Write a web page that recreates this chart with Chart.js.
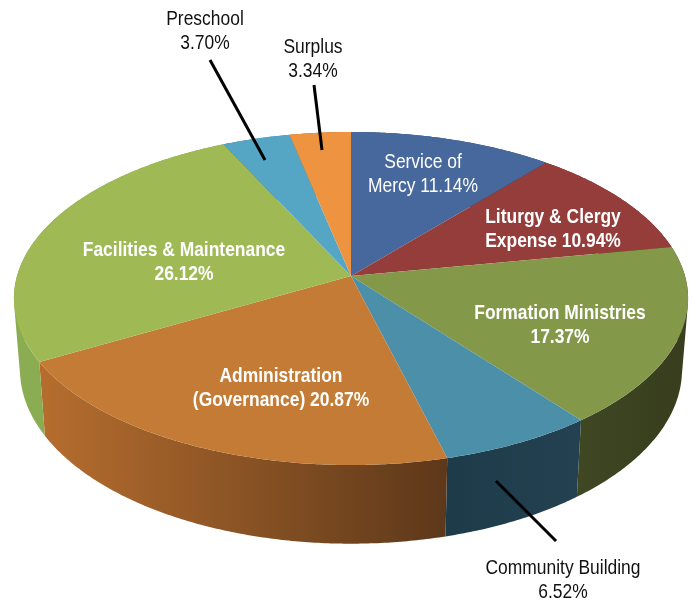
<!DOCTYPE html>
<html>
<head>
<meta charset="utf-8">
<style>
  html, body { margin: 0; padding: 0; background: #fff; }
  canvas { display: block; }
</style>
<script src="https://cdn.jsdelivr.net/npm/chart.js@4"></script>
</head>
<body>
<canvas id="myChart" width="694" height="601"></canvas>
<script>
// data
const categories = ['Service of Mercy', 'Liturgy & Clergy Expense', 'Formation Ministries', 'Community Building',
    'Administration (Governance)', 'Facilities & Maintenance', 'Preschool', 'Surplus']
const shares = [11.14, 10.94, 17.37, 6.52, 20.87, 26.12, 3.70, 3.34]
const labelLines = [
    ['Service of', 'Mercy 11.14%'],
    ['Liturgy & Clergy', 'Expense 10.94%'],
    ['Formation Ministries', '17.37%'],
    ['Community Building', '6.52%'],
    ['Administration', '(Governance) 20.87%'],
    ['Facilities & Maintenance', '26.12%'],
    ['Preschool', '3.70%'],
    ['Surplus', '3.34%'],
]

// styles
const topColors = ['#47689c', '#943d3b', '#84984a', '#4c8fa9', '#c47b35', '#9fba55', '#55a6c5', '#ee9441']
const wallColors = [
    ['#2f456a', '#2f456a'], ['#5e2725', '#5e2725'], ['#3f4723', '#393f1e'], ['#1e3b4a', '#234150'],
    ['#b56d2e', '#5d381a'], ['#8aac52', '#86a64e'], ['#3b7488', '#3b7488'], ['#a86830', '#a86830'],
]
const labelPlaces = [
    { x: 423, y: 162, color: '#fff', bold: false },
    { x: 553, y: 217, color: '#fff', bold: true },
    { x: 560, y: 313, color: '#fff', bold: true },
    { x: 563, y: 568, color: '#111', bold: false },
    { x: 281, y: 376, color: '#fff', bold: true },
    { x: 184, y: 250, color: '#fff', bold: true },
    { x: 205, y: 19, color: '#111', bold: false },
    { x: 313, y: 47, color: '#111', bold: false },
]
const lineGap = 24.5
const narrow = 0.83 // no narrow face installed, so the sans is squeezed
// leader lines for the labels that sit outside of the pie
const leaders = [
    [210, 60, 265, 160],
    [314, 85, 322, 150],
    [496, 481, 556, 541],
]

/////////////////////////////////////////////////////////////
// perspective of the disc: circle angle -> canvas point
/////////////////////////////////////////////////////////////
const topDisc = { cx: 351, cy: 276, a: 334, b: 163.5, p: -0.135 }
const bottomDisc = { cx: 351, cy: 346, a: 328, b: 171, p: -0.135 }

function project(disc, angle) {
    const x = Math.cos(angle)
    const y = Math.sin(angle)
    const w = 1 + disc.p * y
    return { x: disc.cx + disc.a * x / w, y: disc.cy + disc.b * y / w }
}

// rim of one slice as canvas points, always ending exactly on the end angle
function rim(disc, arc) {
    const step = Math.PI / 180 / 2
    const pts = []
    for (let t = arc.startAngle; t < arc.endAngle; t += step) {
        pts.push(project(disc, t))
    }
    pts.push(project(disc, arc.endAngle))
    return pts
}

const disc3d = {
    id: 'disc3d',
    // default flat drawing is skipped, the arcs are painted from their own angles
    beforeDatasetDraw(chart) {
        const ctx = chart.ctx
        const arcs = chart.getDatasetMeta(0).data

        // side wall: small quads in one path, all wound the same way so the
        // part that folds over at the left and right edge does not cancel out
        arcs.forEach((arc, i) => {
            const x0 = project(bottomDisc, arc.startAngle).x
            const x1 = project(bottomDisc, arc.endAngle).x
            const grad = ctx.createLinearGradient(Math.min(x0, x1), 0, Math.max(x0, x1), 0)
            grad.addColorStop(0, wallColors[i][0])
            grad.addColorStop(1, wallColors[i][1])
            ctx.fillStyle = grad
            const up = rim(topDisc, arc)
            const low = rim(bottomDisc, arc)
            ctx.beginPath()
            for (let n = 0; n < up.length - 1; n++) {
                let quad = [up[n], up[n + 1], low[n + 1], low[n]]
                let area = 0
                quad.forEach((p, k) => {
                    const q = quad[(k + 1) % 4]
                    area += p.x * q.y - q.x * p.y
                })
                if (area < 0) quad = quad.reverse()
                ctx.moveTo(quad[0].x, quad[0].y)
                quad.slice(1).forEach(p => ctx.lineTo(p.x, p.y))
                ctx.closePath()
            }
            ctx.fill()
        })

        // top face
        arcs.forEach((arc, i) => {
            ctx.fillStyle = topColors[i]
            ctx.beginPath()
            ctx.moveTo(topDisc.cx, topDisc.cy)
            rim(topDisc, arc).forEach(p => ctx.lineTo(p.x, p.y))
            ctx.closePath()
            ctx.fill()
        })
        return false
    },
    afterDatasetsDraw(chart) {
        const ctx = chart.ctx
        ctx.save()
        ctx.strokeStyle = '#000'
        ctx.lineWidth = 3
        leaders.forEach(l => {
            ctx.beginPath()
            ctx.moveTo(l[0], l[1])
            ctx.lineTo(l[2], l[3])
            ctx.stroke()
        })
        ctx.textAlign = 'center'
        ctx.textBaseline = 'middle'
        labelLines.forEach((lines, i) => {
            const place = labelPlaces[i]
            ctx.fillStyle = place.color
            ctx.font = (place.bold ? 'bold ' : '') + "21px 'Liberation Sans'"
            lines.forEach((line, n) => {
                ctx.save()
                ctx.translate(place.x, place.y + n * lineGap)
                ctx.scale(narrow, 1)
                ctx.fillText(line, 0, 0)
                ctx.restore()
            })
        })
        ctx.restore()
    }
}

// config
const config = {
    type: 'pie',
    data: {
        labels: categories,
        datasets: [{ data: shares, backgroundColor: topColors, borderWidth: 0 }]
    },
    plugins: [disc3d],
    options: {
        responsive: false,
        animation: false,
        plugins: {
            legend: { display: false },
            tooltip: { enabled: false },
        }
    }
}
// render / init
const myChart = new Chart(document.getElementById('myChart'), config)
</script>
</body>
</html>
